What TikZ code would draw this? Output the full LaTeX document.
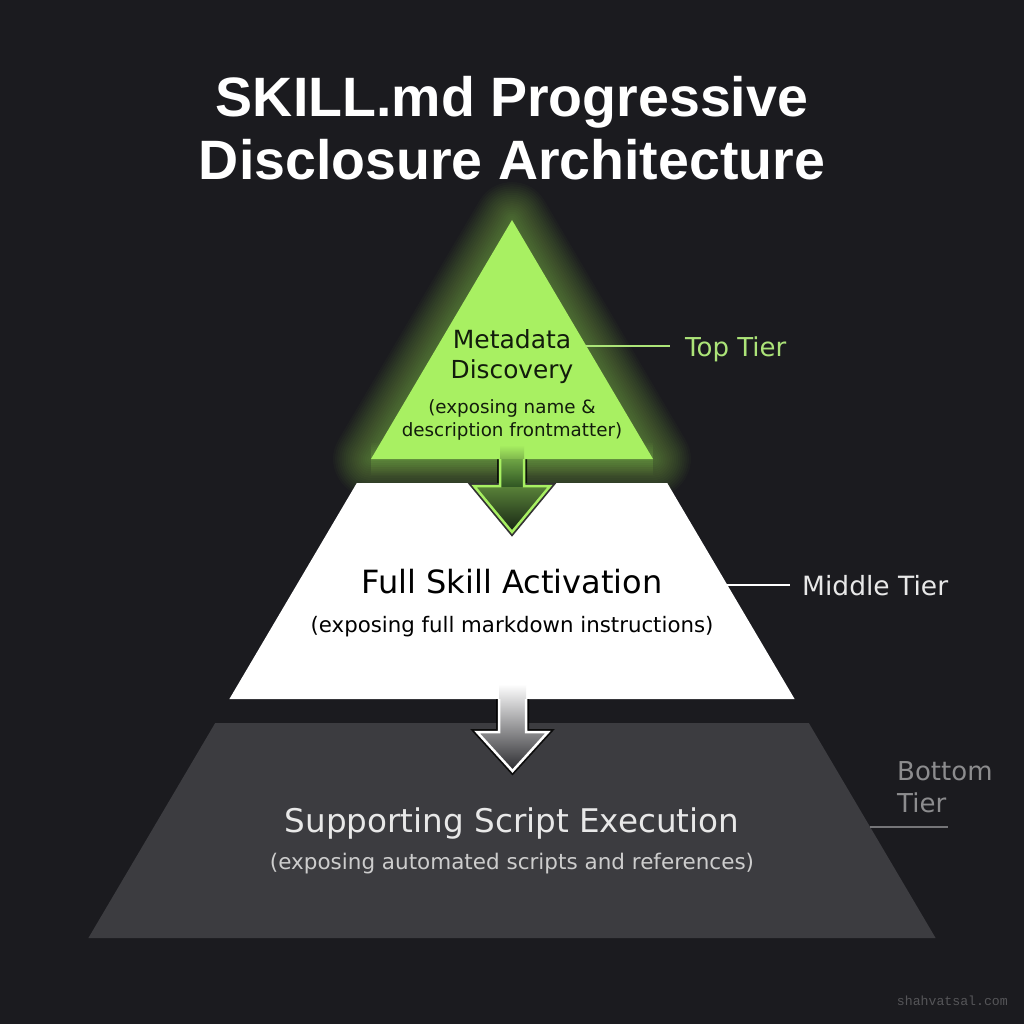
\documentclass[tikz,border=0pt]{standalone}
\usepackage{fontspec}
\setmainfont{DejaVu Sans}
\newfontfamily\titlefont{Liberation Sans}
\newfontfamily\wmfont{Liberation Mono}
\definecolor{bg}{RGB}{27,27,31}
\definecolor{lime}{RGB}{168,240,98}
\definecolor{limetxt}{RGB}{172,228,120}
\definecolor{tiergray}{RGB}{60,60,64}
\definecolor{greentxt}{RGB}{18,28,12}
\definecolor{gshaftA}{RGB}{150,215,90}
\definecolor{gshaftB}{RGB}{50,88,36}
\definecolor{gshaftC}{RGB}{22,36,20}
\definecolor{wshaftB}{RGB}{150,150,152}
\definecolor{wshaftC}{RGB}{42,42,46}
\definecolor{lighttxt}{RGB}{232,232,232}
\definecolor{subtxt}{RGB}{205,205,205}
\definecolor{bottomlab}{RGB}{140,140,142}
\definecolor{wmark}{RGB}{85,85,88}
\tikzset{
  fsz/.style={font=\fontsize{#1}{#1}\selectfont},
  titletext/.style={font=\fontsize{55.5}{60}\selectfont\titlefont\bfseries, text=white, inner sep=0pt, anchor=base},
  tiertext/.style={inner sep=0pt, anchor=base},
  sidelabel/.style={inner sep=0pt, anchor=base west},
  tierline/.style={line width=2.5pt},
  arrowshadow/.style={draw=black, line width=6pt, opacity=0.8, line join=miter},
}
\begin{document}
\begin{tikzpicture}[x=1pt,y=-1pt]
\fill[bg] (0,0) rectangle (1024,1024);
\useasboundingbox (0,0) rectangle (1024,1024);

% pyramid corner coordinates
\coordinate (apex) at (512,220);
\coordinate (tbl) at (371,459);
\coordinate (tbr) at (653,459);
\coordinate (mtl) at (356.8,483);
\coordinate (mtr) at (667.2,483);
\coordinate (mbl) at (229.4,699);
\coordinate (mbr) at (794.6,699);
\coordinate (btl) at (215.2,723);
\coordinate (btr) at (808.8,723);
\coordinate (bbl) at (88.4,938);
\coordinate (bbr) at (935.6,938);

% soft glow of top tier
\foreach \i in {1,...,18}{
  \draw[lime, line width=\i*4.2pt, opacity=0.028, line join=round] (apex) -- (tbl) -- (tbr) -- cycle;
}
\foreach \i in {1,...,8}{
  \draw[lime, line width=\i*4pt, opacity=0.03, line join=round] (tbl) -- (tbr);
}

% middle and bottom tiers
\fill[white] (mtl) -- (mtr) -- (mbr) -- (mbl) -- cycle;
\fill[tiergray] (btl) -- (btr) -- (bbr) -- (bbl) -- cycle;

% arrow 1 (top -> middle)
\coordinate (a1t) at (512,532);
\draw[arrowshadow] (500,459) -- (500,486) -- (474,486) -- (a1t) -- (550,486) -- (524,486) -- (524,459);
\shade[top color=gshaftA, middle color=gshaftB, bottom color=gshaftC]
  (500,445) -- (500,486) -- (474,486) -- (a1t) -- (550,486) -- (524,486) -- (524,445) -- cycle;
% top tier
\fill[lime] (apex) -- (tbr) -- (tbl) -- cycle;
\shade[top color=lime, bottom color=gshaftA!85!black] (500,445) rectangle (524,459);
\shade[top color=gshaftA!60!gshaftB, bottom color=gshaftB] (500,459) rectangle (524,486);
\draw[lime, line width=2.5pt, line join=miter] (500,459) -- (500,486) -- (474,486) -- (a1t) -- (550,486) -- (524,486) -- (524,459);

% arrow 2 (middle -> bottom)
\coordinate (a2t) at (512.5,771);
\draw[arrowshadow] (499,699) -- (499,732) -- (477,732) -- (a2t) -- (548,732) -- (526,732) -- (526,699);
\shade[top color=white, middle color=wshaftB, bottom color=wshaftC]
  (499,684) -- (499,732) -- (477,732) -- (a2t) -- (548,732) -- (526,732) -- (526,684) -- cycle;
\draw[white, line width=2.5pt, line join=miter] (499,699) -- (499,732) -- (477,732) -- (a2t) -- (548,732) -- (526,732) -- (526,699);

% title
\node[titletext] (title1) at (512,117) {SKILL.md Progressive};
\node[titletext] (title2) at (512,180) {Disclosure Architecture};

% top tier texts
\node[tiertext, fsz=25, text=greentxt] (meta1) at (512,348) {Metadata};
\node[tiertext, fsz=24.8, text=greentxt] (meta2) at (512,378) {Discovery};
\node[tiertext, fsz=18.3, text=greentxt] (meta3) at (512,413) {(exposing name \&};
\node[tiertext, fsz=18.3, text=greentxt] (meta4) at (512,436) {description frontmatter)};

% middle tier texts
\node[tiertext, fsz=32, text=black] (mid1) at (512,593) {Full Skill Activation};
\node[tiertext, fsz=21.3, text=black] (mid2) at (512,632) {(exposing full markdown instructions)};

% bottom tier texts
\node[tiertext, fsz=32.6, text=lighttxt] (bot1) at (512,832) {Supporting Script Execution};
\node[tiertext, fsz=21.5, text=subtxt] (bot2) at (512,869) {(exposing automated scripts and references)};

% side labels
\coordinate (e1) at (586.3,346);
\coordinate (e2) at (727.4,585);
\coordinate (e3) at (870,827);
\node[sidelabel, fsz=26, text=limetxt] (toplab) at (685,356) {Top Tier};
\node[sidelabel, fsz=26.5, text=lighttxt] (midlab) at (802,595) {Middle Tier};
\node[sidelabel, fsz=26, text=bottomlab] (botlabA) at (897,780) {Bottom};
\node[sidelabel, fsz=26, text=bottomlab] (botlabB) at (897,812) {Tier};
\draw[tierline, limetxt] (e1) -- ([xshift=-15pt]e1 -| toplab.west);
\draw[tierline, white] (e2) -- ([xshift=-12pt]e2 -| midlab.west);
\draw[tierline, bottomlab!80!bg] (e3) -- ([xshift=51pt]e3 -| botlabB.west);

% watermark
\node[inner sep=0pt, anchor=base east, font=\fontsize{13.2}{14}\selectfont\wmfont, text=wmark] (wm) at (1008,1005) {shahvatsal.com};
\end{tikzpicture}
\end{document}
